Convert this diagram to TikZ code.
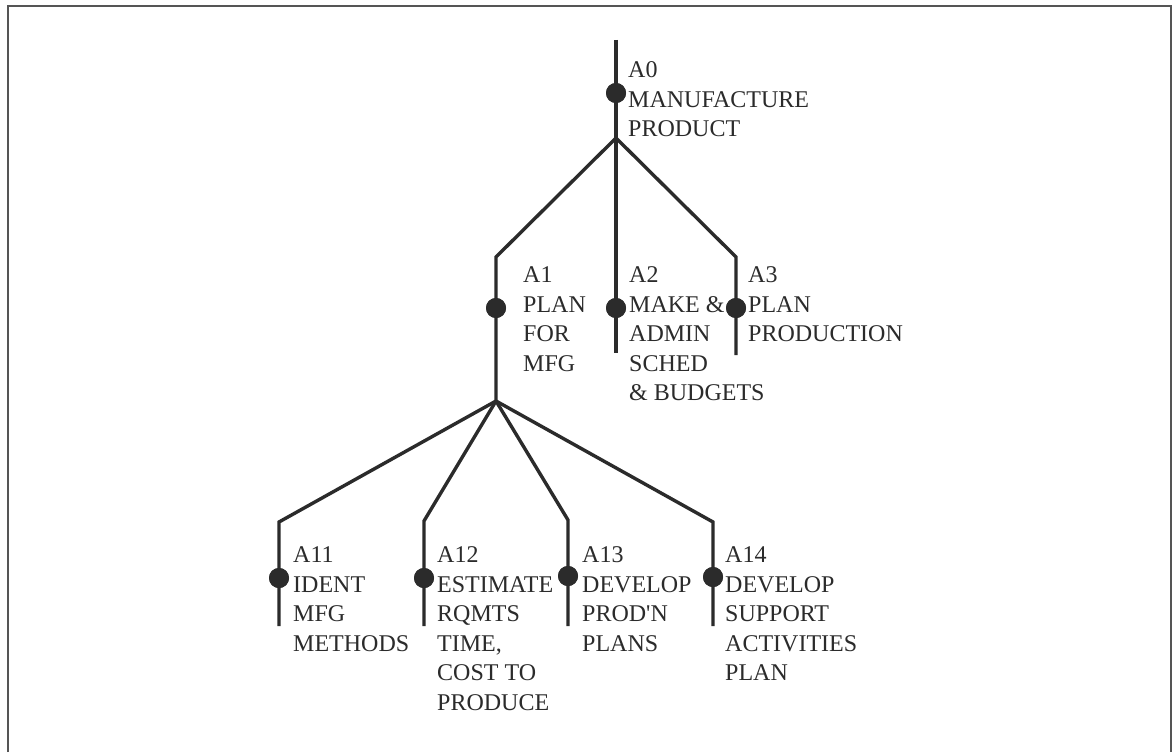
\documentclass[tikz,border=0pt]{standalone}
\usepackage{fontspec}
\setmainfont{Liberation Serif}
\definecolor{ink}{HTML}{2B2B2B}
\definecolor{frame}{HTML}{555555}
\newcommand{\straightquote}{\XeTeXglyph\XeTeXcharglyph"27 }
\begin{document}
\begin{tikzpicture}[x=1pt,y=-1pt,
  link/.style={draw=ink,line width=3.4pt,line join=miter},
  dot/.style={circle,fill=ink,draw=none,minimum size=20pt,inner sep=0pt},
  lbl/.style={anchor=north west,align=left,inner sep=0pt,text=ink,
    font=\fontsize{24}{29.5}\selectfont}]
\useasboundingbox (0,0) rectangle (1172,752);
\fill[white] (0,0) rectangle (1172,752);
\draw[frame,line width=2.2pt] (8,752) -- (8,6) -- (1171,6) -- (1171,752);

% coordinates
\coordinate (t0) at (616,40);
\coordinate (j0) at (616,138);
\coordinate (c1) at (496,257);
\coordinate (j1) at (496,401);
\coordinate (e2) at (616,353);
\coordinate (c3) at (736,257);
\coordinate (e3) at (736,355);
\coordinate (c11) at (279,522);
\coordinate (e11) at (279,626);
\coordinate (c12) at (424,521);
\coordinate (e12) at (424,626);
\coordinate (c13) at (568,520);
\coordinate (e13) at (568,626);
\coordinate (c14) at (713,522);
\coordinate (e14) at (713,626);

% dots
\node[dot] (d0) at (616,93) {};
\node[dot] (d1) at (496,308) {};
\node[dot] (d2) at (616,308) {};
\node[dot] (d3) at (736,308) {};
\node[dot] (d11) at (279,578) {};
\node[dot] (d12) at (424,578) {};
\node[dot] (d13) at (568,576) {};
\node[dot] (d14) at (713,577) {};

% connectors
\draw[link] (t0) -- (d0.center) -- (j0);
\draw[link] (j0) -- (c1) -- (d1.center) -- (j1);
\draw[link] (j0) -- (d2.center) -- (e2);
\draw[link] (j0) -- (c3) -- (d3.center) -- (e3);
\draw[link] (j1) -- (c11) -- (d11.center) -- (e11);
\draw[link] (j1) -- (c12) -- (d12.center) -- (e12);
\draw[link] (j1) -- (c13) -- (d13.center) -- (e13);
\draw[link] (j1) -- (c14) -- (d14.center) -- (e14);

% dots on top of the lines
\foreach \n in {d0,d1,d2,d3,d11,d12,d13,d14}{\fill[ink] (\n.center) circle[radius=10pt];}

% labels (north west = first baseline - 16.3)
\node[lbl] (l0) at (628,61.7) {A0\\MANUFACTURE\\PRODUCT};
\node[lbl] (l1) at (523,266.7) {A1\\PLAN\\FOR\\MFG};
\node[lbl] (l2) at (629,266.7) {A2\\MAKE \&\\ADMIN\\SCHED\\\& BUDGETS};
\node[lbl] (l3) at (748,266.7) {A3\\PLAN\\PRODUCTION};
\node[lbl] (l11) at (293,546.7) {A11\\IDENT\\MFG\\METHODS};
\node[lbl] (l12) at (437,546.7) {A12\\ESTIMATE\\RQMTS\\TIME,\\COST TO\\PRODUCE};
\node[lbl] (l13) at (582,546.7) {A13\\DEVELOP\\PROD\straightquote N\\PLANS};
\node[lbl] (l14) at (725,546.7) {A14\\DEVELOP\\SUPPORT\\ACTIVITIES\\PLAN};
\end{tikzpicture}
\end{document}
